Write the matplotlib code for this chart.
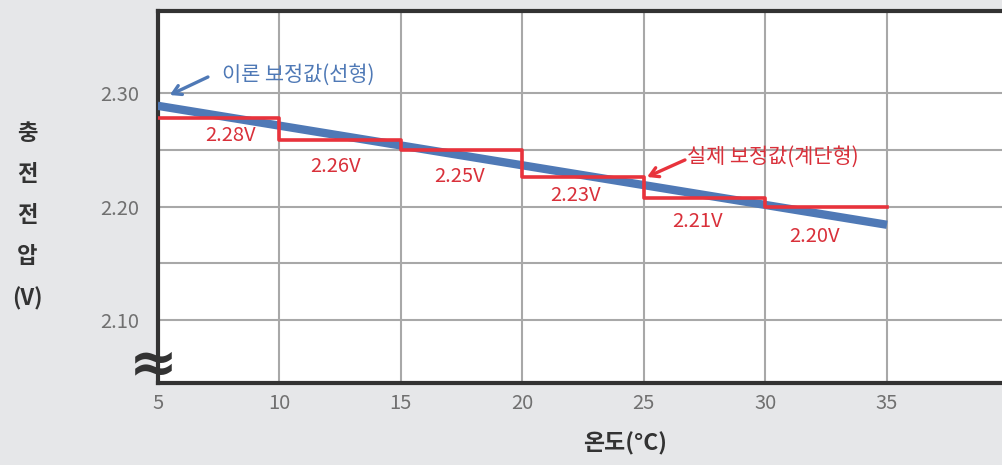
import numpy as np
import matplotlib
matplotlib.use("Agg")
import matplotlib.pyplot as plt

plt.rcParams["font.family"] = ["Noto Sans CJK KR", "DejaVu Sans"]

# theoretical (linear) compensation line
theory_temp = [5, 35]
theory_volt = [2.289, 2.184]

# actual (stepped) compensation values
step_edges = [5, 10, 15, 20, 25, 30, 35]
step_volt = [2.278, 2.259, 2.250, 2.226, 2.208, 2.200]
step_labels = ["2.28V", "2.26V", "2.25V", "2.23V", "2.21V", "2.20V"]
label_x = [8.0, 12.3, 17.4, 22.2, 27.2, 32.0]
label_y = [2.263, 2.235, 2.2265, 2.210, 2.187, 2.174]

x_ticks = [5, 10, 15, 20, 25, 30, 35]
y_ticks = [2.10, 2.20, 2.30]
y_grid = [2.15, 2.25]

BG = "#e6e7e9"
BLUE = "#4f79b6"
RED = "#e8333c"
RED_TXT = "#d9303a"
DARK = "#333333"
GRID = "#a8a8a8"

fig = plt.figure(figsize=(10.02, 4.65), dpi=100, facecolor=BG)
ax = fig.add_axes([0.1573, 0.1763, 0.8427, 0.8000])
ax.set_facecolor("white")

ax.set_xlim(5, 39.73)
ax.set_ylim(2.0444, 2.3726)

ax.set_xticks(x_ticks)
ax.set_yticks(y_ticks)
ax.set_yticklabels([f"{v:.2f}" for v in y_ticks])
ax.tick_params(axis="both", length=0, colors="#707070", labelsize=14.5, pad=7)
ax.tick_params(axis="y", pad=13)
for lbl in ax.get_xticklabels() + ax.get_yticklabels():
    lbl.set_fontweight("light")

ax.grid(True, color=GRID, lw=1.5)
for v in y_grid:
    ax.axhline(v, color=GRID, lw=1.5, zorder=0.5)
ax.axvline(40, color=GRID, lw=1.5, zorder=0.5)
ax.set_axisbelow(True)

for side in ["top", "left", "bottom"]:
    ax.spines[side].set_color(DARK)
    ax.spines[side].set_linewidth(3)
ax.spines["right"].set_visible(False)

# theory line
ax.plot(theory_temp, theory_volt, color=BLUE, lw=6, solid_capstyle="butt", zorder=3)

# stepped line
xs = np.repeat(step_edges, 2)[1:-1]
ys = np.repeat(step_volt, 2)
ax.plot(xs, ys, color=RED, lw=2.6, zorder=4)

for t, lx, ly in zip(step_labels, label_x, label_y):
    ax.text(lx, ly, t, color=RED_TXT, fontsize=14.5, ha="center", va="center")

arrow_style = "->, head_length=0.6, head_width=0.35"
ax.annotate("", xy=(5.5, 2.2985), xytext=(7.07, 2.3144),
            arrowprops=dict(arrowstyle=arrow_style, color=BLUE, lw=2.4, shrinkA=0, shrinkB=0))
ax.text(7.65, 2.3161, "이론 보정값(선형)", color=BLUE, fontsize=15, va="center", ha="left")
ax.annotate("", xy=(25.13, 2.2262), xytext=(26.69, 2.2412),
            arrowprops=dict(arrowstyle=arrow_style, color=RED, lw=2.4, shrinkA=0, shrinkB=0))
ax.text(26.78, 2.2438, "실제 보정값(계단형)", color=RED_TXT, fontsize=15, va="center", ha="left")

# axis break mark
ax.text(-0.005, 0.05, "≈", transform=ax.transAxes, fontsize=42, color=DARK,
        ha="center", va="center", fontweight="bold", family="DejaVu Sans", clip_on=False)

fig.text(0.027, 0.535, "충\n전\n전\n압\n(V)", ha="center", va="center",
         fontsize=16, fontweight="bold", color=DARK, linespacing=2.0)
fig.text(0.624, 0.045, "온도(°C)", ha="center", va="center",
         fontsize=16.5, fontweight="bold", color=DARK)

fig.savefig("out.png", dpi=100, facecolor=BG)
